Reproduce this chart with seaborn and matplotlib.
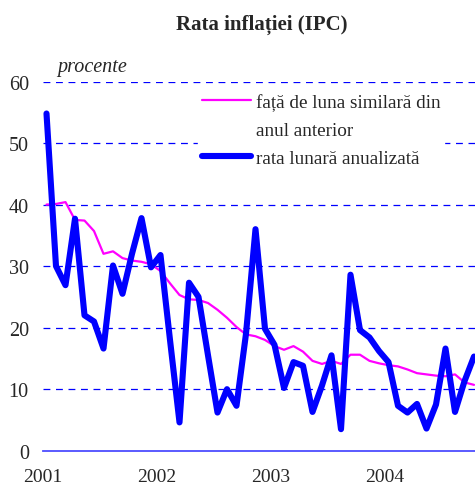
import numpy as np
import pandas as pd
import matplotlib
matplotlib.use("Agg")
import matplotlib.pyplot as plt
import seaborn as sns
from matplotlib.lines import Line2D

# Data, monthly Jan 2001 - Oct 2004
yoy = [40.0, 40.1, 40.4, 37.5, 37.4, 35.7, 32.0, 32.4, 31.3, 30.9, 30.7, 30.3,
       29.2, 27.2, 25.3, 24.6, 24.5, 24.0, 22.9, 21.6, 20.1, 18.9, 18.6, 18.0,
       17.0, 16.4, 17.0, 16.1, 14.6, 14.1, 14.6, 14.1, 15.6, 15.6, 14.6, 14.2,
       13.9, 13.7, 13.2, 12.6, 12.4, 12.2, 12.1, 12.4, 11.1, 10.7]
monthly = [54.8, 30.0, 26.9, 37.7, 22.0, 21.0, 16.6, 30.1, 25.5, 32.0, 37.8, 29.8,
           31.8, 18.0, 4.6, 27.3, 25.0, 15.5, 6.2, 10.0, 7.3, 19.0, 36.0, 19.8,
           17.2, 10.2, 14.4, 13.8, 6.3, 10.6, 15.5, 3.5, 28.6, 19.6, 18.4, 16.2,
           14.4, 7.3, 6.2, 7.6, 3.6, 7.5, 16.6, 6.3, 11.3, 15.3]
years = ["2001", "2002", "2003", "2004"]
label_yoy = "față de luna similară din"
label_yoy2 = "anul anterior"
label_monthly = "rata lunară anualizată"

df = pd.DataFrame({"luna": np.arange(len(yoy)) + 0.4, "yoy": yoy, "monthly": monthly})

sns.set_style("white")
plt.rcParams["font.family"] = ["Liberation Serif", "DejaVu Serif"]

fig = plt.figure(figsize=(4.75, 4.85), dpi=100)
ax = fig.add_axes([42.7 / 475, 33.3 / 485, 1 - 42.7 / 475, 369.2 / 485])

sns.lineplot(data=df, x="luna", y="yoy", ax=ax, color="#ff00ff", linewidth=1.6, zorder=3)
sns.lineplot(data=df, x="luna", y="monthly", ax=ax, color="#0000ff", linewidth=4.4,
             zorder=4, solid_joinstyle="round", solid_capstyle="round")

ax.set_xlim(0, (475 - 42.7) / 9.5)
ax.set_ylim(0, 60)
ax.set_xticks([0, 12, 24, 36])
ax.set_xticklabels(years)
ax.set_yticks(range(0, 61, 10))
ax.set_xlabel("")
ax.set_ylabel("")

for v in range(10, 61, 10):
    ax.axhline(v, color="#0000ff", linewidth=0.9, linestyle=(0, (5.5, 4.5)), zorder=1)

for s in ["top", "right", "left"]:
    ax.spines[s].set_visible(False)
ax.spines["bottom"].set_color("#4d4dff")
ax.spines["bottom"].set_linewidth(1.3)
ax.tick_params(axis="x", direction="out", length=4.5, width=1.3, color="#4d4dff",
               labelsize=14, pad=8)
ax.tick_params(axis="y", length=0, labelsize=14.5, pad=10)

fig.text(262 / 475, 1 - 25 / 485, "Rata inflației (IPC)", ha="center", va="center",
         fontsize=15, fontweight="bold")
fig.text(57 / 475, 1 - 68 / 485, "procente", ha="left", va="center",
         fontsize=14.5, style="italic")

handles = [Line2D([], [], color="#ff00ff", linewidth=1.6),
           Line2D([], [], color="none"),
           Line2D([], [], color="#0000ff", linewidth=4.4)]
leg = ax.legend(handles, [label_yoy, label_yoy2, label_monthly],
                loc="upper left", bbox_to_anchor=(198 / 475, 1 - 90 / 485),
                bbox_transform=fig.transFigure, frameon=True, fontsize=13.8,
                handlelength=2.55, handletextpad=0.25, labelspacing=0.56,
                borderpad=0.2, borderaxespad=0, framealpha=1,
                facecolor="white", edgecolor="white")
leg.set_zorder(5)

fig.savefig("out.png", dpi=100)
